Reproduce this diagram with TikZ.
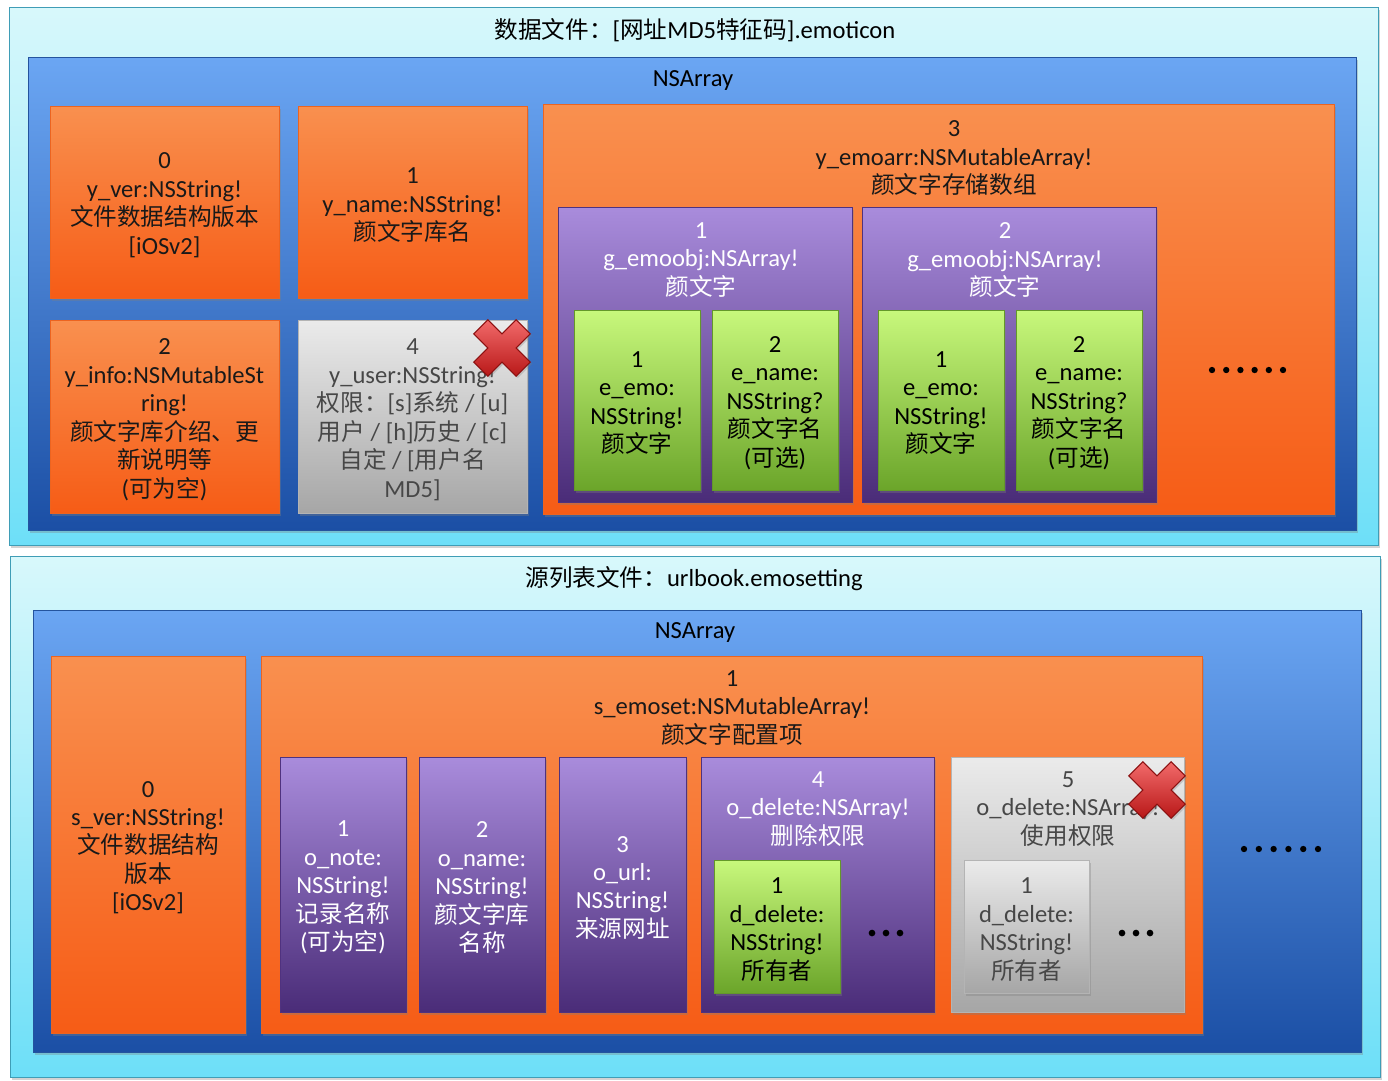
\documentclass[tikz,border=0pt]{standalone}
\usepackage{fontspec}
\setmainfont{Carlito}
\newfontfamily\cjk{Noto Sans CJK SC}[Scale=0.96]
\usetikzlibrary{fit,shadows}

\newcommand*{\zh}[1]{{\cjk #1}}

\definecolor{cyanhi}{HTML}{D8F8FB}
\definecolor{cyanlo}{HTML}{6DDFF8}
\definecolor{cyanedge}{HTML}{3F9DB6}
\definecolor{bluehi}{HTML}{6BA6F3}
\definecolor{bluelo}{HTML}{1B4FA5}
\definecolor{blueedge}{HTML}{24549E}
\definecolor{orangehi}{HTML}{F9904F}
\definecolor{orangelo}{HTML}{F65C16}
\definecolor{orangeedge}{HTML}{EC6420}
\definecolor{purplehi}{HTML}{A98CDC}
\definecolor{purplelo}{HTML}{4A2C78}
\definecolor{purpleedge}{HTML}{50327F}
\definecolor{greenhi}{HTML}{C8F87C}
\definecolor{greenlo}{HTML}{6BA52A}
\definecolor{greenedge}{HTML}{64982A}
\definecolor{grayhi}{HTML}{EBEBEB}
\definecolor{graylo}{HTML}{A6A6A6}
\definecolor{grayedge}{HTML}{B4B4B4}
\definecolor{crosshi}{HTML}{F26A6A}
\definecolor{crosslo}{HTML}{B81818}
\definecolor{crossedge}{HTML}{8C1010}

\tikzset{
  redcross/.pic={
    \begin{scope}[rotate=45]
      \draw[draw=crossedge, line width=0.6pt, top color=crosshi, bottom color=crosslo,
            drop shadow={shadow xshift=1pt, shadow yshift=-1pt, opacity=0.3}]
        (-10,-30) -- (10,-30) -- (10,-10) -- (30,-10) -- (30,10) -- (10,10)
        -- (10,30) -- (-10,30) -- (-10,10) -- (-30,10) -- (-30,-10) -- (-10,-10) -- cycle;
    \end{scope}
  }
}

\begin{document}
\begin{tikzpicture}
[
	x=0.02cm,
	y=-0.02cm,
	box/.style={draw, line width=0.5pt, inner sep=0pt,
		drop shadow={shadow xshift=1.2pt, shadow yshift=-1.6pt, opacity=0.35}},
	cyanbox/.style={box, draw=cyanedge, top color=cyanhi, bottom color=cyanlo},
	bluebox/.style={box, draw=blueedge, top color=bluehi, bottom color=bluelo},
	orangebox/.style={box, draw=orangeedge, top color=orangehi, bottom color=orangelo},
	purplebox/.style={box, draw=purpleedge, top color=purplehi, bottom color=purplelo},
	greenbox/.style={box, draw=greenedge, top color=greenhi, bottom color=greenlo},
	graybox/.style={box, draw=grayedge, top color=grayhi, bottom color=graylo},
	lbl/.style={inner sep=0pt, align=center, font=\fontsize{14}{16.2}\selectfont},
	onorange/.style={lbl, text=black!90},
	onpurple/.style={lbl, text=white},
	ongray/.style={lbl, text=black!72},
	boxtxt/.style={yshift=-1.8pt}
]

	\useasboundingbox (0,0) rectangle (1388,1080);

	% data file
	\node[cyanbox, fit={(9,7) (1378,545)}] (datafile) {};
	\node[lbl] (datatitle) at (695,30) {\zh{数据文件：}[\zh{网址}MD5\zh{特征码}].emoticon};
	\node[bluebox, fit={(28,57) (1356,530)}] (dataarr) {};
	\node[lbl] (dataarrlbl) at (693,80) {NSArray};

	\node[orangebox, fit={(50,106) (279,298)}] (yver) {};
	\node[onorange, boxtxt] (yvertxt) at (yver)
		{0\\ y\_ver:NSString!\\ \zh{文件数据结构版本}\\ {[iOSv2]}};
	\node[orangebox, fit={(298,106) (527,298)}] (yname) {};
	\node[onorange, boxtxt] (ynametxt) at (yname)
		{1\\ y\_name:NSString!\\ \zh{颜文字库名}};
	\node[orangebox, fit={(50,320) (279,513)}] (yinfo) {};
	\node[onorange, boxtxt] (yinfotxt) at (yinfo)
		{2\\ y\_info:NSMutableSt\\ ring!\\ \zh{颜文字库介绍、更}\\ \zh{新说明等}\\ (\zh{可为空})};
	\node[graybox, fit={(298,320) (527,513)}] (yuser) {};
	\node[ongray, boxtxt] (yusertxt) at (yuser)
		{4\\ y\_user:NSString!\\ \zh{权限：}[s]\zh{系统} / [u]\\ \zh{用户} / [h]\zh{历史} / [c]\\ \zh{自定} / [\zh{用户名}\\ MD5]};
	\pic at (502,348) {redcross};

	\node[orangebox, fit={(543,104) (1334,514)}] (yemoarr) {};
	\node[onorange] (yemoarrlbl) at (954,158)
		{3\\ y\_emoarr:NSMutableArray!\\ \zh{颜文字存储数组}};

	% emoticon groups
	\foreach \gx/\n in {558/1,862/2} {
		\node[purplebox, fit={(\gx,207) (\gx+294,502)}] (emoobj\n) {};
		\node[onpurple] (emoobjlbl\n) at (\gx+143,260)
			{\n\\ g\_emoobj:NSArray!\\ \zh{颜文字}};
		\node[greenbox, fit={(\gx+16,310) (\gx+142,490)}] (eemo\n) {};
		\node[lbl, boxtxt] (eemotxt\n) at (eemo\n)
			{1\\ e\_emo:\\ NSString!\\ \zh{颜文字}};
		\node[greenbox, fit={(\gx+154,310) (\gx+280,490)}] (ename\n) {};
		\node[lbl, boxtxt] (enametxt\n) at (ename\n)
			{2\\ e\_name:\\ NSString?\\ \zh{颜文字名}\\ (\zh{可选})};
	}
	\foreach \i in {0,...,5} {
		\fill (1212+14.2*\i,370) circle (1.8pt);
	}

	% source list file
	\node[cyanbox, fit={(10,556) (1380,1077)}] (setfile) {};
	\node[lbl] (settitle) at (694,579) {\zh{源列表文件：}urlbook.emosetting};
	\node[bluebox, fit={(33,610) (1361,1052)}] (setarr) {};
	\node[lbl] (setarrlbl) at (695,632) {NSArray};

	\node[orangebox, fit={(51,656) (245,1033)}] (sver) {};
	\node[onorange, boxtxt] (svertxt) at (sver)
		{0\\ s\_ver:NSString!\\ \zh{文件数据结构}\\ \zh{版本}\\ {[iOSv2]}};
	\node[orangebox, fit={(261,656) (1202,1033)}] (semoset) {};
	\node[onorange] (semosetlbl) at (732,708)
		{1\\ s\_emoset:NSMutableArray!\\ \zh{颜文字配置项}};

	\node[purplebox, fit={(280,757) (406,1012)}] (onote) {};
	\node[onpurple, boxtxt] (onotetxt) at (onote)
		{1\\ o\_note:\\ NSString!\\ \zh{记录名称}\\ (\zh{可为空})};
	\node[purplebox, fit={(419,757) (545,1012)}] (oname) {};
	\node[onpurple, boxtxt] (onametxt) at (oname)
		{2\\ o\_name:\\ NSString!\\ \zh{颜文字库}\\ \zh{名称}};
	\node[purplebox, fit={(559,757) (686,1012)}] (ourl) {};
	\node[onpurple, boxtxt] (ourltxt) at (ourl)
		{3\\ o\_url:\\ NSString!\\ \zh{来源网址}};

	\node[purplebox, fit={(701,757) (934,1012)}] (odelete) {};
	\node[onpurple] (odeletelbl) at (818,809)
		{4\\ o\_delete:NSArray!\\ \zh{删除权限}};
	\node[greenbox, fit={(714,860) (840,993)}] (ddelete) {};
	\node[lbl, boxtxt] (ddeletetxt) at (ddelete)
		{1\\ d\_delete:\\ NSString!\\ \zh{所有者}};
	\foreach \i in {0,1,2} {
		\fill (872+14*\i,933) circle (1.9pt);
	}

	\node[graybox, fit={(951,757) (1184,1012)}] (ouse) {};
	\node[ongray] (ouselbl) at (1068,809)
		{5\\ o\_delete:NSArray!\\ \zh{使用权限}};
	\node[graybox, fit={(964,860) (1089,993)}] (duse) {};
	\node[ongray, boxtxt] (dusetxt) at (duse)
		{1\\ d\_delete:\\ NSString!\\ \zh{所有者}};
	\foreach \i in {0,1,2} {
		\fill (1122+14*\i,933) circle (1.9pt);
	}
	\pic at (1157,790) {redcross};

	\foreach \i in {0,...,5} {
		\fill (1244+14.8*\i,849) circle (1.8pt);
	}

\end{tikzpicture}
\end{document}
